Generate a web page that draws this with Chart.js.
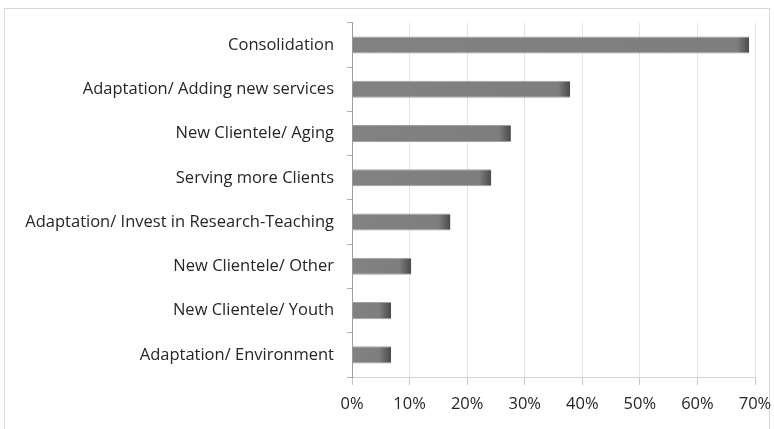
<!DOCTYPE html>
<html>
<head>
<meta charset="utf-8">
<script src="https://cdn.jsdelivr.net/npm/chart.js@4/dist/chart.umd.min.js"></script>
<style>
html,body{margin:0;padding:0;background:#fff;}
#wrap{position:absolute;left:0;top:0;width:774px;height:429px;}
</style>
</head>
<body>
<div id="wrap"><canvas id="c" width="774" height="429"></canvas></div>
<script>
const categories = [
  "Consolidation",
  "Adaptation/ Adding new services",
  "New Clientele/ Aging",
  "Serving more Clients",
  "Adaptation/ Invest in Research-Teaching",
  "New Clientele/ Other",
  "New Clientele/ Youth",
  "Adaptation/ Environment"
];
const values = [69.0, 37.9, 27.6, 24.2, 17.1, 10.3, 6.8, 6.8];
const tickValues = [0, 10, 20, 30, 40, 50, 60, 70];

const FONT = "'Open Sans', sans-serif";

const framePlugin = {
  id: 'frame',
  beforeDraw(chart) {
    const c = chart.ctx;
    c.save();
    c.fillStyle = '#fff';
    c.fillRect(0, 0, chart.width, chart.height);
    c.strokeStyle = '#d9d9d9';
    c.lineWidth = 1;
    c.strokeRect(4.5, 8.5, 765, 440);
    c.restore();
  }
};

function barFill(ctx) {
  const chart = ctx.chart;
  const xs = chart.scales.x;
  if (!xs || ctx.dataIndex === undefined) return '#808080';
  const v = ctx.dataset.data[ctx.dataIndex];
  const x0 = xs.getPixelForValue(0);
  const x1 = xs.getPixelForValue(v);
  if (!isFinite(x0) || !isFinite(x1) || x1 - x0 < 2) return '#808080';
  const g = chart.ctx.createLinearGradient(x0, 0, x1, 0);
  const w = x1 - x0;
  const f = Math.max(0, 1 - 12 / w);
  g.addColorStop(0, '#828282');
  g.addColorStop(f, '#7e7e7e');
  g.addColorStop(1, '#4a4a4a');
  return g;
}

new Chart(document.getElementById('c'), {
  type: 'bar',
  data: {
    labels: categories,
    datasets: [{
      data: values,
      backgroundColor: barFill,
      borderColor: '#a0a0a0',
      borderWidth: {top: 1, bottom: 1, left: 0, right: 0},
      borderSkipped: false,
      barPercentage: 0.385,
      categoryPercentage: 1
    }]
  },
  options: {
    indexAxis: 'y',
    responsive: false,
    animation: false,
    devicePixelRatio: 1,
    layout: {padding: {top: 22, right: 19, bottom: 0, left: 0}},
    plugins: {legend: {display: false}, tooltip: {enabled: false}},
    scales: {
      x: {
        min: 0, max: 70,
        afterBuildTicks(scale) { scale.ticks = tickValues.map(v => ({value: v})); },
        afterFit(scale) { scale.height = 52; scale.paddingRight = 0; scale.paddingLeft = 0; },
        ticks: {
          callback: v => v + '%',
          color: '#262626',
          font: {family: FONT, size: 16.5},
          padding: 9,
          maxRotation: 0
        },
        grid: {color: '#e4e4e4', tickLength: 8, tickColor: '#c4c4c4', drawTicks: true},
        border: {color: '#d4d4d4'}
      },
      y: {
        afterFit(scale) { scale.width = 352; },
        ticks: {
          color: '#262626',
          font: {family: FONT, size: 16.5},
          padding: 13
        },
        grid: {offset: true, drawOnChartArea: false, tickLength: 5, tickColor: '#b0b0b0'},
        border: {color: '#a0a0a0'}
      }
    }
  },
  plugins: [framePlugin]
});
</script>
</body>
</html>
